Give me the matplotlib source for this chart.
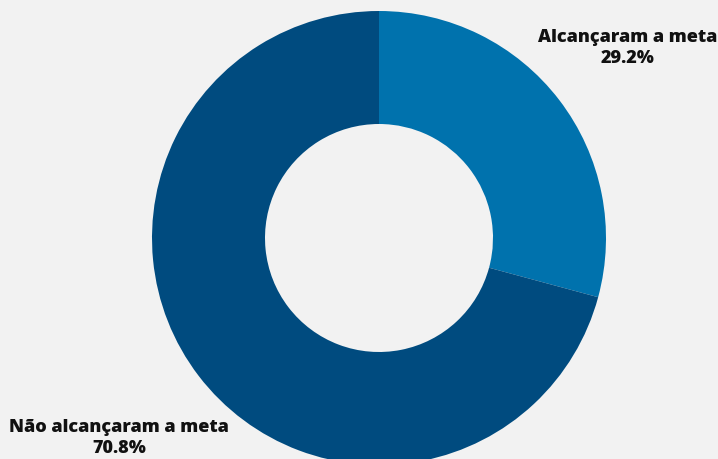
import matplotlib.pyplot as plt

categorias = ['Alcançaram a meta', 'Não alcançaram a meta']
percentuais = [29.2, 70.8]
cores = ['#0072ad', '#004b7f']

fig = plt.figure(figsize=(7.18, 4.59), dpi=100)
fig.patch.set_facecolor('#f2f2f2')
ax = fig.add_axes([0, 0, 1, 1])
ax.set_facecolor('#f2f2f2')
ax.set_xlim(0, 718)
ax.set_ylim(0, 459)
ax.set_aspect('equal')
ax.axis('off')

# Rosca centrada em pixels da figura
centro = (379, 459 - 238)
ax.pie(percentuais, colors=cores, startangle=90, counterclock=False,
       center=centro, radius=227,
       wedgeprops=dict(width=113, linewidth=0))
ax.set_xlim(0, 718)
ax.set_ylim(0, 459)

# Rótulos com categoria e percentual
posicoes = [(628, 459 - 48), (119, 459 - 438)]
for cat, val, (x, y) in zip(categorias, percentuais, posicoes):
    ax.text(x, y, f'{cat}\n{val:.1f}%', ha='center', va='center',
            fontsize=13, fontweight='heavy', family='Open Sans',
            color='#111111', linespacing=1.38)

fig.savefig('out.png', dpi=100, facecolor=fig.get_facecolor())
